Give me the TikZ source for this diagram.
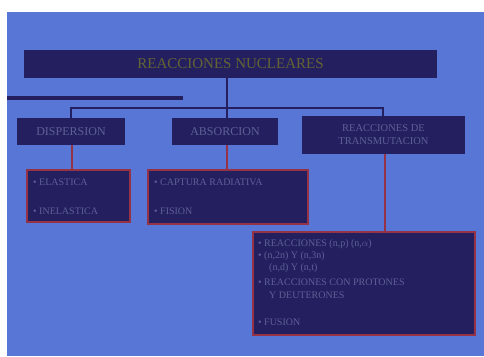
\documentclass[tikz,border=0pt]{standalone}
\usepackage{fontspec}
\setmainfont{Liberation Serif}
\definecolor{bgblue}{RGB}{88,118,214}
\definecolor{navy}{RGB}{36,32,96}
\definecolor{redline}{RGB}{150,50,70}
\definecolor{olive}{RGB}{100,100,50}
\definecolor{ftext}{RGB}{95,95,150}
\tikzset{
  lvltwo/.style={draw=none, fill=navy, text=ftext, font=\fontsize{12}{13}\selectfont, align=center, inner sep=0pt},
  lvlthree/.style={draw=redline, line width=1.2pt, fill=navy, inner sep=0pt},
  blink/.style={draw=navy, line width=1.6pt},
  rlink/.style={draw=redline, line width=1.4pt},
  itemtxt/.style={text=ftext, font=\fontsize{10}{11}\selectfont, anchor=west, inner sep=0pt}
}
\begin{document}
\begin{tikzpicture}[x=1pt,y=-1pt]
\useasboundingbox (0,0) rectangle (484,356);
\fill[white] (0,0) rectangle (484,356);
\fill[bgblue] (7,12) rectangle (484,356);
% title
\node[fill=navy, minimum width=413pt, minimum height=28pt, inner sep=0pt, text=olive, font=\fontsize{15}{16}\selectfont] (title) at (230.5,64) {REACCIONES NUCLEARES};
% left dark bar
\fill[navy] (7,96) rectangle (183,99.5);
% level 2
\node[lvltwo, minimum width=108pt, minimum height=27pt] (disp) at (71,131.5) {DISPERSION};
\node[lvltwo, minimum width=106pt, minimum height=27pt] (abs) at (225,131.5) {ABSORCION};
\node[lvltwo, minimum width=163pt, minimum height=38pt, font=\fontsize{10.5}{13}\selectfont] (reac) at (383.5,135) {REACCIONES DE\\TRANSMUTACION};
% connectors level 1 -> 2
\coordinate (hl) at (71,108);
\coordinate (hm) at (227,108);
\coordinate (hr) at (383,108);
\draw[blink] (title.south -| hm) -- (hm);
\draw[blink] (disp.north -| hl) -- (hl) -- (hr) -- (reac.north -| hr);
\draw[blink] (hm) -- (abs.north -| hm);
% level 3 boxes
\node[lvlthree, minimum width=103pt, minimum height=52pt] (b1) at (78.5,196) {};
\node[lvlthree, minimum width=160pt, minimum height=54pt] (b2) at (228,197) {};
\node[lvlthree, minimum width=222pt, minimum height=103pt] (b3) at (364,283.5) {};
% red connectors
\draw[rlink] (disp.south -| 72,0) -- (b1.north -| 72,0);
\draw[rlink] (abs.south -| 227,0) -- (b2.north -| 227,0);
\draw[rlink] (reac.south -| 385,0) -- (b3.north -| 385,0);
% items box 1
\node[itemtxt] (i11) at (33,182) {• ELASTICA};
\node[itemtxt] (i12) at (33,211) {• INELASTICA};
% items box 2
\node[itemtxt] (i21) at (154,182) {• CAPTURA RADIATIVA};
\node[itemtxt] (i22) at (154,211) {• FISION};
% items box 3
\node[itemtxt] (i31) at (258,244) {• REACCIONES (n,p) (n,$\alpha$)};
\node[itemtxt] (i32) at (258,256) {• (n,2n) Y (n,3n)};
\node[itemtxt] (i33) at (264,268) {\ \ (n,d) Y (n,t)};
\node[itemtxt] (i34) at (258,282) {• REACCIONES CON PROTONES};
\node[itemtxt] (i35) at (264,295) {\ \ Y DEUTERONES};
\node[itemtxt] (i36) at (258,322) {• FUSION};
\end{tikzpicture}
\end{document}
